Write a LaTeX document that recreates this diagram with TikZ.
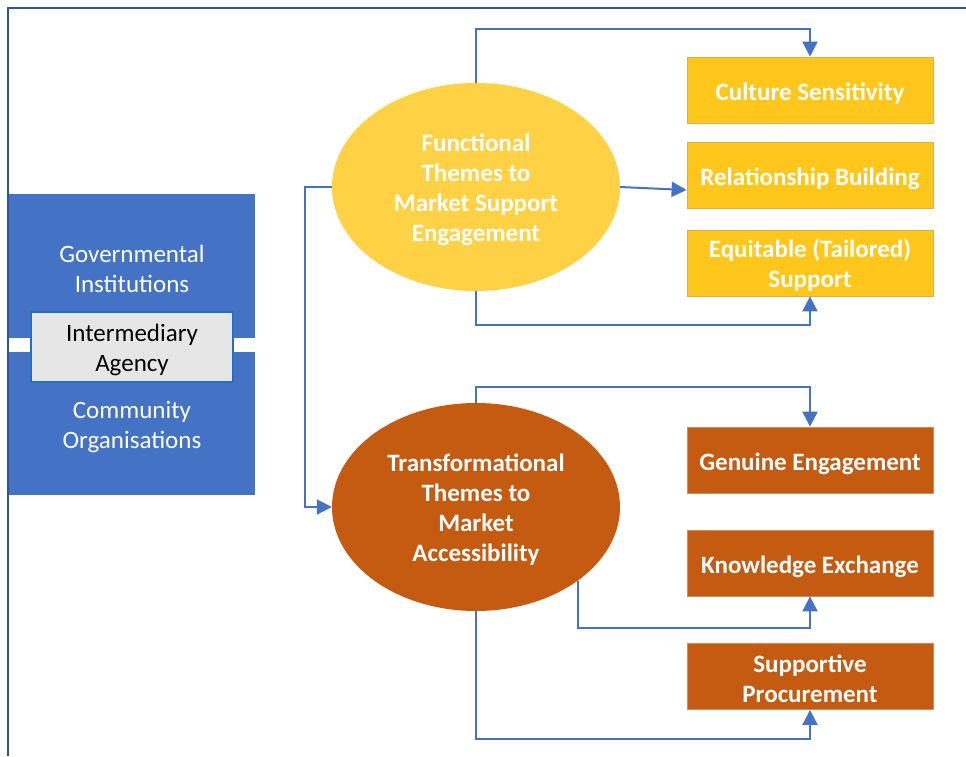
\documentclass[tikz,border=0pt]{standalone}
\usepackage{fontspec}
\setmainfont{Carlito}
\usetikzlibrary{shapes.geometric,arrows.meta}
\definecolor{frameblue}{HTML}{2F5597}
\definecolor{linkblue}{HTML}{4472C4}
\definecolor{blockblue}{HTML}{4472C4}
\definecolor{agencyedge}{HTML}{1F70C0}
\definecolor{agencyfill}{HTML}{E7E6E6}
\definecolor{goldoval}{HTML}{FFD145}
\definecolor{goldbox}{HTML}{FFC71C}
\definecolor{goldedge}{HTML}{D9B04A}
\definecolor{rust}{HTML}{C55A11}
\definecolor{rustedge}{HTML}{D08A5C}
\tikzset{
  plain/.style={font=\fontsize{25}{30}\selectfont, align=center, inner sep=0pt},
  bold/.style={font=\bfseries\fontsize{25}{30}\selectfont, align=center, inner sep=0pt, text=white},
  lowered/.style={yshift=-2.5pt},
  lowered1/.style={yshift=-3.5pt},
  block/.style={fill=blockblue, rectangle, minimum width=246pt, inner sep=0pt},
  agency/.style={fill=agencyfill, draw=agencyedge, line width=2.2pt,
    rectangle, minimum width=202pt, minimum height=70pt, inner sep=0pt},
  oval/.style={ellipse, minimum width=288pt, minimum height=208pt, inner sep=0pt},
  goldtheme/.style={rectangle, fill=goldbox, draw=goldedge, line width=0.8pt,
    minimum width=246pt, minimum height=66pt, inner sep=0pt},
  rusttheme/.style={rectangle, fill=rust, draw=rustedge, line width=0.8pt,
    minimum width=246pt, minimum height=66pt, inner sep=0pt},
  link/.style={draw=linkblue, line width=2pt, -{Triangle[length=15pt,width=15pt]}},
  frameline/.style={draw=frameblue, line width=2pt}
}
\begin{document}
\begin{tikzpicture}[x=1pt,y=-1pt]
  \useasboundingbox (0,0) rectangle (966,756);
  \fill[white] (0,0) rectangle (966,756);
  % outer frame
  \draw[frameline] (8,756) -- (8,8) -- (966,8);

  % stakeholder block
  \node[block, minimum height=144pt] (gov) at (132,266) {};
  \node[block, minimum height=143pt] (com) at (132,423.5) {};
  \node[agency] (agency) at (132,347) {};
  \node[plain, text=white, lowered] (govtext) at (gov) {Governmental\\Institutions};
  \node[plain, text=white, lowered] (comtext) at ([yshift=-1.5pt]com.center) {Community\\Organisations};
  \node[plain, text=black, lowered] (agencytext) at (agency) {Intermediary\\Agency};

  % theme ovals
  \node[oval, fill=goldoval] (func) at (476,187) {};
  \node[oval, fill=rust] (trans) at (476,507) {};
  \node[bold, lowered] (functext) at (func) {Functional\\Themes to\\Market Support\\Engagement};
  \node[bold, lowered] (transtext) at (trans) {Transformational\\Themes to\\Market\\Accessibility};

  % functional themes
  \node[goldtheme] (culture) at (810,90) {};
  \node[goldtheme] (relation) at (810,175) {};
  \node[goldtheme] (equit) at (810,263) {};
  \node[bold, lowered1] (culturetext) at (culture) {Culture Sensitivity};
  \node[bold, lowered1] (relationtext) at (relation) {Relationship Building};
  \node[bold, lowered] (equittext) at (equit) {Equitable (Tailored)\\Support};

  % transformational themes
  \node[rusttheme] (genuine) at (810,460) {};
  \node[rusttheme] (knowledge) at (810,563) {};
  \node[rusttheme] (procure) at (810,676.5) {};
  \node[bold, lowered1] (genuinetext) at (genuine) {Genuine Engagement};
  \node[bold, lowered1] (knowledgetext) at (knowledge) {Knowledge Exchange};
  \node[bold, lowered] (procuretext) at (procure) {Supportive\\Procurement};

  % connectors
  \draw[link] (func.north) -- ++(0,-54) -| (culture.north);
  \draw[link] (func.east) -- ([yshift=-15pt]relation.west);
  \draw[link] (func.south) -- ++(0,34) -| (equit.south);
  \draw[link] (func.west) -- ++(-27,0) |- (trans.west);
  \draw[link] (trans.north) -- ++(0,-16) -| (genuine.north);
  \draw[link] (trans.-36) -- ++(0,47) -| (knowledge.south);
  \draw[link] (trans.south) -- ++(0,128) -| (procure.south);
\end{tikzpicture}
\end{document}
